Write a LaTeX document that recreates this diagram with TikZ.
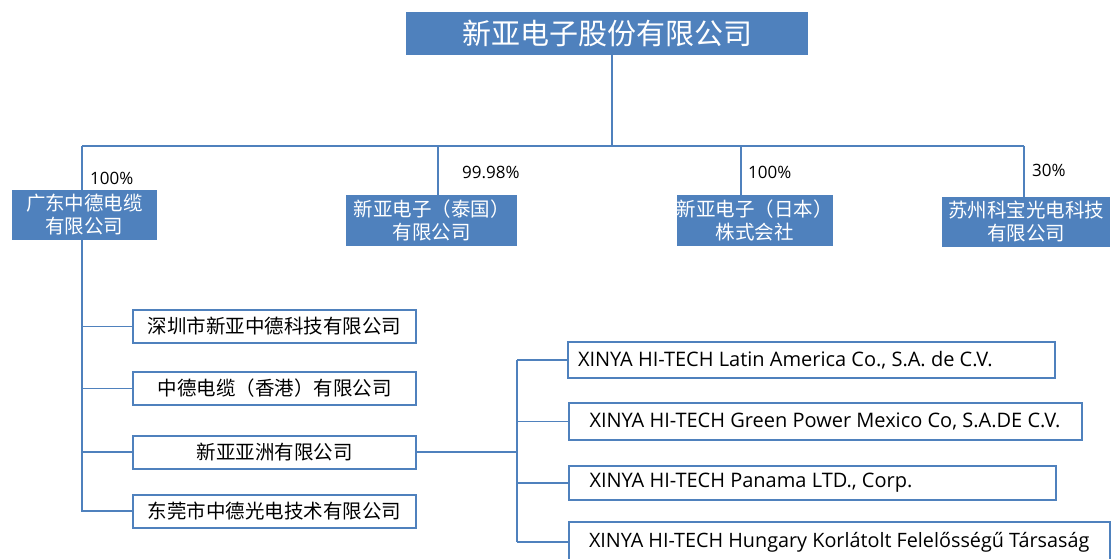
\documentclass[tikz,border=0pt]{standalone}
\usepackage{fontspec}
\setmainfont{Open Sans}
\newfontfamily\cjk{Noto Sans CJK SC}
\definecolor{boxblue}{HTML}{4F81BD}
\begin{document}
\begin{tikzpicture}[x=1pt,y=-1pt,
  conn/.style={draw=boxblue,line width=1.3pt},
  topbox/.style={fill=boxblue,text=white,inner sep=0pt,minimum width=402pt,minimum height=43pt,font=\cjk\fontsize{29}{33}\selectfont},
  bluebox/.style={fill=boxblue,text=white,inner sep=0pt,align=center,font=\cjk\fontsize{19.5}{23}\selectfont},
  kidbox/.style={draw=boxblue,line width=2pt,fill=white,inner sep=0pt,minimum width=283pt,minimum height=33pt,font=\cjk\fontsize{19.5}{23}\selectfont},
  engbox/.style={draw=boxblue,line width=2pt,fill=white,inner ysep=0pt,align=left,font=\fontsize{20}{24}\selectfont},
  pct/.style={anchor=west,inner sep=0pt,font=\fontsize{17}{20}\selectfont}]
\useasboundingbox (0,0) rectangle (1111,559);
% top
\node[topbox] (top) at (607,33.5) {新亚电子股份有限公司};
% junctions
\coordinate (j0) at (612,146);
\coordinate (c1) at (82,146);
\coordinate (c2) at (438,146);
\coordinate (c3) at (741,146);
\coordinate (c4) at (1024,146);
% first level
\node[bluebox,minimum width=145pt,minimum height=50pt] (gd) at (84.5,215) {广东中德电缆\\有限公司};
\node[bluebox,minimum width=171pt,minimum height=51pt] (th) at (431.5,220.5) {新亚电子（泰国）\\有限公司};
\node[bluebox,minimum width=153pt,minimum height=51pt] (jp) at (754.5,220.5) {新亚电子（日本）\\株式会社};
\node[bluebox,minimum width=168pt,minimum height=50pt] (sz) at (1026,222) {苏州科宝光电科技\\有限公司};
\node[pct] (p1) at (90,178) {100\%};
\node[pct] (p2) at (462,172) {99.98\%};
\node[pct] (p3) at (748,172) {100\%};
\node[pct] (p4) at (1032,170) {30\%};
\draw[conn] (top.south -| j0) -- (j0);
\draw[conn] (c1) -- (c4);
\draw[conn] (c1) -- (gd.north -| c1);
\draw[conn] (c2) -- (th.north -| c2);
\draw[conn] (c3) -- (jp.north -| c3);
\draw[conn] (c4) -- (sz.north -| c4);
% children of gd
\node[kidbox] (k1) at (274.5,326.5) {深圳市新亚中德科技有限公司};
\node[kidbox] (k2) at (274.5,388.5) {中德电缆（香港）有限公司};
\node[kidbox] (k3) at (274.5,452) {新亚亚洲有限公司};
\node[kidbox] (k4) at (274.5,511) {东莞市中德光电技术有限公司};
\coordinate (sp) at (82,511);
\draw[conn] (gd.south -| sp) -- (sp) -- (k4.west);
\draw[conn] (k1.west -| sp) -- (k1.west);
\draw[conn] (k2.west -| sp) -- (k2.west);
\draw[conn] (k3.west -| sp) -- (k3.west);
% english boxes
\node[engbox,inner xsep=0pt,minimum height=36pt] (e1) at (811.5,360) {\makebox[487pt][l]{\hspace{10pt}XINYA HI-TECH Latin America Co., S.A. de C.V.}};
\node[engbox,inner xsep=0pt,minimum height=37pt] (e2) at (825.5,421.5) {\makebox[513pt][l]{\hspace{20.5pt}XINYA HI-TECH Green Power Mexico Co, S.A.DE C.V.}};
\node[engbox,inner xsep=0pt,minimum height=34pt] (e3) at (812.5,483) {\makebox[487pt][l]{\hspace{20.5pt}XINYA HI-TECH Panama LTD., Corp.}};
\node[engbox,inner xsep=0pt,minimum height=40pt] (e4) at (839.5,542) {\makebox[541pt][l]{\hspace{20pt}\fontsize{19.8}{24}\selectfont XINYA HI-TECH Hungary Korlátolt Felelősségű Társaság}};
\coordinate (v0) at (517,452);
\draw[conn] (k3.east) -- (v0);
\draw[conn] (e1.west -| v0) -- (e4.west -| v0);
\draw[conn] (e1.west -| v0) -- (e1.west);
\draw[conn] (e2.west -| v0) -- (e2.west);
\draw[conn] (e3.west -| v0) -- (e3.west);
\draw[conn] (e4.west -| v0) -- (e4.west);
\end{tikzpicture}
\end{document}
